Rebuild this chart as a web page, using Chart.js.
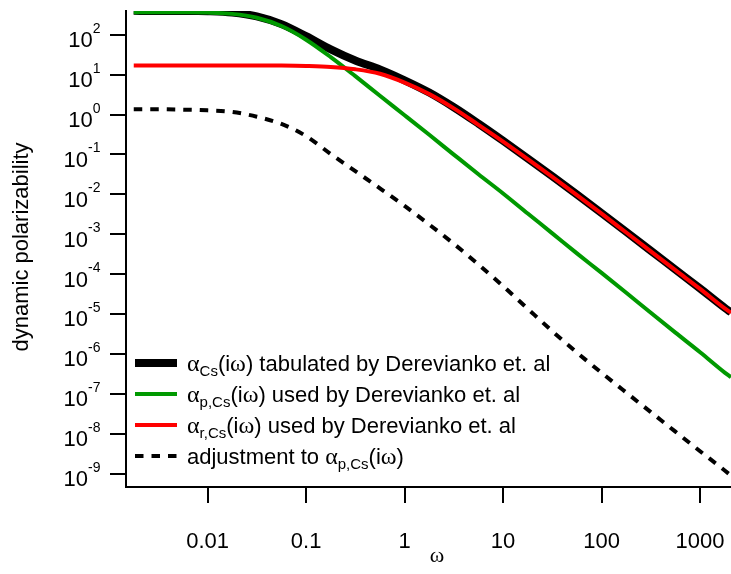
<!DOCTYPE html>
<html><head><meta charset="utf-8">
<script src="https://cdn.jsdelivr.net/npm/chart.js@4.4.0/dist/chart.umd.min.js"></script>
<style>html,body{margin:0;padding:0;background:#fff;}canvas{display:block;}</style>
</head><body>
<canvas id="c" width="731" height="574"></canvas>
<script>
// ---- data ----
const omega      = [0.00178, 0.00316, 0.00562, 0.01, 0.0178, 0.0316, 0.0562, 0.1, 0.178, 0.316, 0.562, 1, 1.78, 3.16, 5.62, 10, 17.8, 31.6, 56.2, 100, 178, 316, 562, 1000, 1780, 2060];
const alphaTotal = [400, 400, 398, 390, 360, 287, 184, 92, 43, 22.6, 13.5, 7.2, 3.55, 1.52, 0.59, 0.219, 0.0794, 0.0282, 9.83e-3, 3.37e-3, 1.14e-3, 3.85e-4, 1.29e-4, 4.35e-5, 1.42e-5, 1.1e-5];
const alphaP     = [368, 367, 364, 358, 333, 267, 165, 75, 27.4, 9.15, 2.95, 0.96, 0.31, 0.099, 0.0318, 0.0105, 3.3e-3, 1.05e-3, 3.3e-4, 1.07e-4, 3.4e-5, 1.07e-5, 3.4e-6, 1.1e-6, 3.4e-7, 2.6e-7];
const alphaR     = [17, 17, 17, 17, 17, 17, 16.9, 16.5, 15.6, 13.6, 10.5, 6.3, 3.24, 1.42, 0.55, 0.209, 0.0761, 0.0272, 9.5e-3, 3.26e-3, 1.1e-3, 3.72e-4, 1.25e-4, 4.25e-5, 1.38e-5, 1.07e-5];
const adjustment = [1.35, 1.35, 1.32, 1.27, 1.16, 0.88, 0.58, 0.288, 0.102, 0.038, 0.0141, 5.1e-3, 1.74e-3, 5.75e-4, 1.74e-4, 5.0e-5, 1.35e-5, 3.7e-6, 1.08e-6, 3.35e-7, 1.07e-7, 3.47e-8, 1.12e-8, 3.63e-9, 1.19e-9, 8.9e-10];

const xTickValues = [0.01, 0.1, 1, 10, 100, 1000];
const xTickLabels = ['0.01', '0.1', '1', '10', '100', '1000'];
const yTickExponents = [-9, -8, -7, -6, -5, -4, -3, -2, -1, 0, 1, 2];
const yTitle = 'dynamic polarizability';
const xTitle = 'ω';
const legendLabels = [
  [['α','g'], ['Cs','sub'], ['(i','n'], ['ω','g'], [') tabulated by Derevianko et. al','n']],
  [['α','g'], ['p,Cs','sub'], ['(i','n'], ['ω','g'], [') used by Derevianko et. al','n']],
  [['α','g'], ['r,Cs','sub'], ['(i','n'], ['ω','g'], [') used by Derevianko et. al','n']],
  [['adjustment to ','n'], ['α','g'], ['p,Cs','sub'], ['(i','n'], ['ω','g'], [')','n']]
];

const SANS = '"Liberation Sans", Arial, sans-serif';
const SERIF = '"Liberation Serif", "Times New Roman", serif';
const FS = 22, FSS = 14, FSUB = 15, FG = 24;

function pts(arr){ return omega.map((w,i)=>({x:w, y:arr[i]})); }

const styles = [
  {color:'#000000', width:8, dash:[]},
  {color:'#009900', width:4, dash:[]},
  {color:'#ff0000', width:4, dash:[]},
  {color:'#000000', width:4, dash:[8.5,8]}
];

function fontFor(kind){
  if (kind==='g') return FG+'px '+SERIF;
  if (kind==='sub') return FSUB+'px '+SANS;
  return FS+'px '+SANS;
}
function drawRuns(ctx, runs, x, y){
  let cx = x;
  for (const [t,k] of runs){
    ctx.font = fontFor(k);
    ctx.fillText(t, cx, k==='sub' ? y+5 : y);
    cx += ctx.measureText(t).width;
  }
  return cx;
}

const textPlugin = {
  id:'texts',
  afterDraw(chart){
    const ctx = chart.ctx, xs = chart.scales.x, ys = chart.scales.y;
    ctx.save();
    ctx.fillStyle = '#000';
    ctx.textBaseline = 'alphabetic';
    // y tick labels 10^n
    ctx.textAlign = 'left';
    yTickExponents.forEach(e=>{
      const py = ys.getPixelForValue(Math.pow(10,e));
      const sup = String(e);
      ctx.font = FSS+'px '+SANS; const ws = ctx.measureText(sup).width;
      ctx.font = FS+'px '+SANS; const wb = ctx.measureText('10').width;
      const x0 = 100.5 - ws - wb;
      ctx.fillText('10', x0, py+12.5);
      ctx.font = FSS+'px '+SANS;
      ctx.fillText(sup, x0+wb, py-2);
    });
    // x tick labels
    ctx.textAlign = 'center';
    ctx.font = FS+'px '+SANS;
    xTickValues.forEach((v,i)=>{
      ctx.fillText(xTickLabels[i], xs.getPixelForValue(v), 548);
    });
    // x title
    ctx.font = '22px '+SERIF;
    ctx.fillText(xTitle, 437, 562);
    // y title
    ctx.save();
    ctx.translate(28, 247);
    ctx.rotate(-Math.PI/2);
    ctx.font = FS+'px '+SANS;
    ctx.fillText(yTitle, 0, 0);
    ctx.restore();
    // legend
    ctx.textAlign = 'left';
    const rows = [363, 394, 425, 456];
    rows.forEach((ry,i)=>{
      const s = styles[i];
      ctx.save();
      ctx.strokeStyle = s.color; ctx.lineWidth = s.width; ctx.setLineDash(s.dash);
      ctx.lineCap = 'butt';
      ctx.beginPath(); ctx.moveTo(135, ry); ctx.lineTo(177, ry); ctx.stroke();
      ctx.restore();
      drawRuns(ctx, legendLabels[i], 187, ry+7.5);
    });
    ctx.restore();
  }
};

const series = [alphaTotal, alphaP, alphaR, adjustment];
const orders = [10, 3, 2, 1];
const datasets = series.map((arr,i)=>({
  data: pts(arr),
  borderColor: styles[i].color,
  borderWidth: styles[i].width,
  borderDash: styles[i].dash,
  borderCapStyle: 'butt',
  borderJoinStyle: 'round',
  pointRadius: 0,
  fill: false,
  cubicInterpolationMode: 'monotone',
  order: orders[i]
}));

const axisCommon = {
  grid: {display:true, drawOnChartArea:false, drawTicks:true, tickLength:16, lineWidth:2, color:'#000'},
  border: {display:true, width:2, color:'#000'},
  ticks: {display:false}
};

new Chart(document.getElementById('c'), {
  type: 'line',
  data: {datasets},
  options: {
    responsive:false, animation:false, devicePixelRatio:1,
    layout:{padding:{top:11, right:0, left:0, bottom:0}},
    plugins:{legend:{display:false}, tooltip:{enabled:false}},
    scales:{
      x: Object.assign({}, axisCommon, {
        type:'logarithmic', min:0.001485, max:2060,
        afterBuildTicks: s => { s.ticks = xTickValues.map(v=>({value:v})); },
        afterFit: s => { s.height = 87; }
      }),
      y: Object.assign({}, axisCommon, {
        type:'logarithmic', min:4.6e-10, max:393,
        afterBuildTicks: s => { s.ticks = yTickExponents.map(e=>({value:Math.pow(10,e)})); },
        afterFit: s => { s.width = 126; }
      })
    }
  },
  plugins:[textPlugin]
});
</script>
</body></html>
